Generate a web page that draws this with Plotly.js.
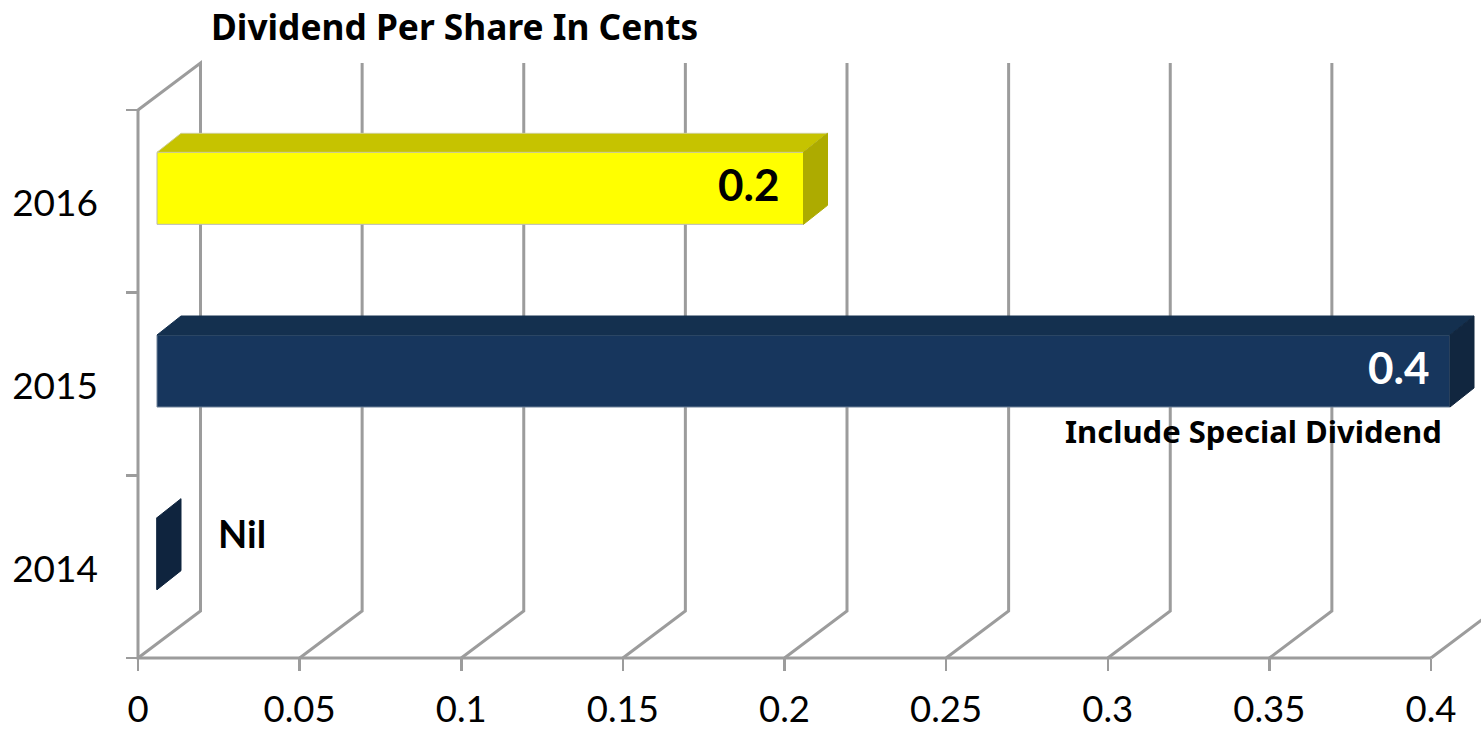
<!DOCTYPE html>
<html>
<head>
<meta charset="utf-8">
<script src="https://cdn.plot.ly/plotly-3.0.1.min.js"></script>
<style>html,body{margin:0;padding:0;background:#fff;overflow:hidden}</style>
</head>
<body>
<div id="chart" style="width:1481px;height:729px"></div>
<script>
const years = ['2014', '2015', '2016'];
const dividends = [0, 0.4, 0.2];
const frontColors = ['#0F243E', '#17365D', '#FFFF00'];
const topColors = ['#0F243E', '#14304F', '#C6C300'];
const sideColors = ['#0F243E', '#11263F', '#ADAB00'];
const edgeColors = ['#0F243E', '#6f8199', '#b8b8b8'];
const xTickVals = [0, 0.05, 0.1, 0.15, 0.2, 0.25, 0.3, 0.35, 0.4];
const xTickText = ['0', '0.05', '0.1', '0.15', '0.2', '0.25', '0.3', '0.35', '0.4'];
const yPositions = [0, 1, 2];
const valueLabels = ['', '0.4', '0.2'];
const labelColors = ['#000', '#fff', '#000'];
const labelGaps = [0, 18, 22];

const GRID = '#9c9c9c', FONT = 'Lato, "Open Sans", sans-serif', BOLD = '"Noto Sans", Lato, sans-serif';
// axis box in page pixels: x 0..0.4 spans 138..1431, y spans 658..110
const PAGE = {w: 1481, h: 729}, box = {l: 138, b: 658, w: 1293, h: 548};
const xMax = 0.4, yBottom = -0.5;
const xp = px => px * xMax / box.w;       // pixels -> x units
const yp = px => px * 3 / box.h;          // pixels -> y units

const traces = [];
const poly = (xs, ys, fill, edge) => traces.push({
  type: 'scatter', mode: 'lines', x: xs.concat(xs[0]), y: ys.concat(ys[0]), fill: 'toself', fillcolor: fill,
  line: {color: edge, width: 1}, hoverinfo: 'skip', showlegend: false
});

// walls and axis lines: computed from the same tick values, drawn under the traces
const gdx = xp(62.5), gdy = yp(47);
const yTop = yBottom + 3;
const path = pts => 'M' + pts.map(p => p[0] + ',' + p[1]).join('L');
const lineShape = pts => ({type: 'path', layer: 'below', xref: 'x', yref: 'y', path: path(pts),
  line: {color: GRID, width: 3}, fillcolor: 'rgba(0,0,0,0)'});
const shapes = xTickVals.map(v => lineShape(
  v === 0 ? [[v, yTop], [v + gdx, yTop + gdy], [v + gdx, yBottom + gdy], [v, yBottom]]
          : [[v, yBottom], [v + gdx, yBottom + gdy], [v + gdx, yTop + gdy]]));
shapes.push(lineShape([[0, yTop], [0, yBottom], [xMax, yBottom]]));

// bars: front face is a real bar, top and end faces are polygons
const bx = xp(19), byUp = yp(13), bh = yp(72), ddx = xp(24), ddy = yp(19);
traces.push({
  type: 'bar', orientation: 'h', x: dividends, base: dividends.map(() => bx),
  y: yPositions.map(p => p + byUp), width: bh,
  marker: {color: frontColors, line: {color: edgeColors, width: 1}},
  hoverinfo: 'skip', showlegend: false
});
dividends.forEach((v, i) => {
  const x0 = bx, x1 = bx + v, yc = yPositions[i] + byUp, yt = yc + bh / 2, yb = yc - bh / 2;
  if (v > 0) poly([x0, x1, x1 + ddx, x0 + ddx], [yt, yt, yt + ddy, yt + ddy], topColors[i], v > 0.3 ? topColors[i] : '#cfcf90');
  poly([x1, x1 + ddx, x1 + ddx, x1], [yt, yt + ddy, yb + ddy, yb], sideColors[i], sideColors[i]);
});

const annotations = dividends.map((v, i) => ({
  xref: 'x', yref: 'y', x: bx + v - xp(labelGaps[i]), y: yPositions[i] + byUp + yp(4), xanchor: 'right', yanchor: 'middle',
  text: valueLabels[i], showarrow: false, font: {family: FONT, size: 44, weight: 700, color: labelColors[i]}
})).filter(a => a.text);
annotations.push({xref: 'x', yref: 'y', x: xp(78), y: yp(34), xanchor: 'left', yanchor: 'middle', text: 'Nil',
  showarrow: false, font: {family: FONT, size: 38, weight: 700, color: '#000'}});
annotations.push({xref: 'x', yref: 'y', x: xp(1306), y: 1 - yp(47), xanchor: 'right', yanchor: 'middle', text: 'Include Special Dividend',
  showarrow: false, font: {family: BOLD, size: 31, weight: 700, color: '#000'}});

const layout = {
  width: PAGE.w, height: PAGE.h, paper_bgcolor: '#fff', plot_bgcolor: 'rgba(0,0,0,0)',
  margin: {l: 0, t: 0, r: 0, b: 0, pad: 0}, showlegend: false,
  barmode: 'overlay', shapes, annotations,
  title: {text: 'Dividend Per Share In Cents', x: 211 / PAGE.w, xanchor: 'left', xref: 'container', y: 1 - 28 / PAGE.h, yanchor: 'middle', yref: 'container',
    font: {family: BOLD, size: 35.3, weight: 700, color: '#000'}},
  xaxis: {range: [xp(-box.l), xp(PAGE.w - box.l)], anchor: 'free', position: (PAGE.h - box.b) / PAGE.h,
    tickmode: 'array', tickvals: xTickVals, ticktext: xTickText, ticks: 'outside', ticklen: 12, tickwidth: 2.5, tickcolor: GRID,
    showline: false, showgrid: false, zeroline: false, ticklabelstandoff: 7,
    tickfont: {family: FONT, size: 36.5, color: '#000'}},
  yaxis: {range: [yBottom - yp(PAGE.h - box.b), yBottom + yp(box.b)], anchor: 'free', position: box.l / PAGE.w,
    tickmode: 'array', tickvals: yPositions.map(p => p - yp(2)), ticktext: years, ticks: '',
    minor: {tick0: -0.5, dtick: 1, ticks: 'outside', ticklen: 12, tickwidth: 2.5, tickcolor: GRID, showgrid: false},
    showline: false, showgrid: false, zeroline: false, ticklabelstandoff: 40,
    tickfont: {family: FONT, size: 37, color: '#000'}}
};
Plotly.newPlot('chart', traces, layout, {displayModeBar: false, staticPlot: true});
</script>
</body>
</html>
